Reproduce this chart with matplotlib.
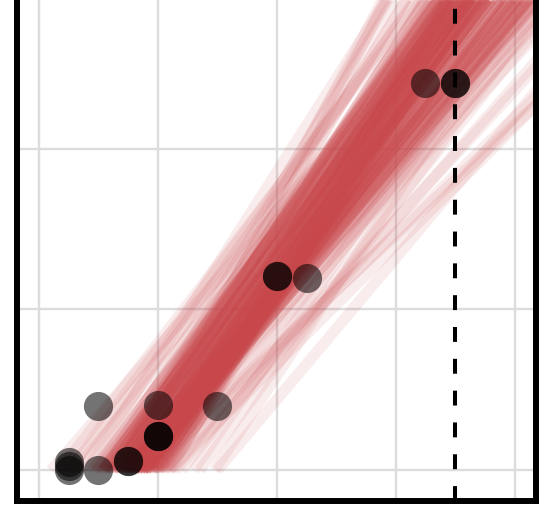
import numpy as np
import matplotlib
matplotlib.use("Agg")
import matplotlib.pyplot as plt

# observed points
x_obs = [1, 1, 1, 2, 2, 3, 3, 4, 4, 4, 4, 6, 8, 8, 9, 13, 14, 14]
y_obs = [0, 0.12, 0.25, 0, 2.0, 0.29, 0.29, 1.07, 1.07, 1.07, 2.03, 2.0,
         6.05, 6.05, 5.98, 12.05, 12.05, 12.05]

# sampled fits: start (x where y=0) and slope
core_start = [1.8, 2.0, 2.1, 2.2, 2.3, 2.4, 2.5, 2.5, 2.6, 2.7, 2.8, 2.8, 2.9, 3.0,
              3.0, 3.1, 3.1, 3.2, 3.2, 3.3, 3.3, 3.4, 3.5, 3.5, 3.6, 3.7, 3.8, 3.9,
              4.0, 4.1, 4.2, 4.4, 2.6, 3.0, 3.4, 3.8,
              1.9, 2.15, 2.35, 2.45, 2.65, 2.75, 2.85, 2.95, 3.05, 3.15, 3.25, 3.35,
              3.45, 3.55, 3.65, 3.75, 3.85, 3.95, 4.05, 4.3, 2.25, 2.55, 3.15, 3.6,
              2.8, 2.9, 3.0, 3.1, 3.2, 3.3, 3.4, 3.5, 3.6, 3.0, 3.2, 3.4, 2.9, 3.3, 3.5]
core_slope = [1.20, 1.25, 1.18, 1.30, 1.22, 1.35, 1.15, 1.28, 1.40, 1.24, 1.32, 1.19,
              1.45, 1.26, 1.36, 1.22, 1.30, 1.41, 1.27, 1.33, 1.20, 1.38, 1.25, 1.47,
              1.31, 1.29, 1.42, 1.35, 1.50, 1.38, 1.45, 1.55, 1.50, 1.12, 1.18, 1.25,
              1.27, 1.21, 1.33, 1.26, 1.23, 1.37, 1.29, 1.21, 1.32, 1.39, 1.24, 1.30,
              1.34, 1.28, 1.44, 1.36, 1.31, 1.48, 1.40, 1.42, 1.16, 1.31, 1.17, 1.22,
              1.10, 1.08, 1.14, 1.12, 1.10, 1.16, 1.12, 1.18, 1.15, 1.06, 1.05, 1.09,
              1.16, 1.13, 1.11]

tail_start = [0.4, 0.7, 1.0, 1.4, 2.6, 3.7, 3.5, 3.8, 4.4, 4.2, 5.4, 5.9, 5.2, 4.8,
              4.0, 3.5, 4.5, 3.2, 6.0, 1.6, 2.2, 1.2, 4.6, 3.9, 3.2, 1.0]
tail_slope = [1.06, 1.20, 1.15, 1.30, 1.60, 1.84, 0.86, 0.90, 0.92, 1.00, 1.25, 1.40,
              1.35, 1.15, 1.10, 1.05, 1.20, 1.00, 1.10, 1.45, 1.50, 1.10, 1.05, 1.15,
              1.75, 1.25]

threshold = 14

red = '#c8474b'

fig = plt.figure(figsize=(5.39, 5.17), dpi=100)
ax = fig.add_axes([17/539, 16.5/517, 519/539, 500.5/517])

x_end = 17.0
for x0, s in zip(core_start, core_slope):
    ax.plot([x0, x_end], [0, s*(x_end-x0)], color=red, alpha=0.2, lw=8,
            solid_capstyle='butt', zorder=2)
for x0, s in zip(tail_start, tail_slope):
    ax.plot([x0, x_end], [0, s*(x_end-x0)], color=red, alpha=0.1, lw=8,
            solid_capstyle='butt', zorder=2)

ax.scatter(x_obs, y_obs, s=440, color='black', alpha=0.55, linewidths=0, zorder=3)
ax.axvline(threshold, color='black', lw=2.9, dashes=(3.7, 4.2), zorder=4)

ax.set_xlim(-0.74, 16.72)
ax.set_ylim(-0.94, 14.62)
ax.set_xticks([0, 4, 8, 12, 16])
ax.set_yticks([0, 5, 10])
ax.tick_params(length=0, labelbottom=False, labelleft=False)
ax.grid(color='#dcdcdc', lw=1.7)
ax.set_axisbelow(True)
for side in ['left', 'bottom', 'right']:
    ax.spines[side].set_linewidth(4.3)
    ax.spines[side].set_zorder(5)
ax.spines['top'].set_visible(False)

plt.savefig('out.png', dpi=100)
